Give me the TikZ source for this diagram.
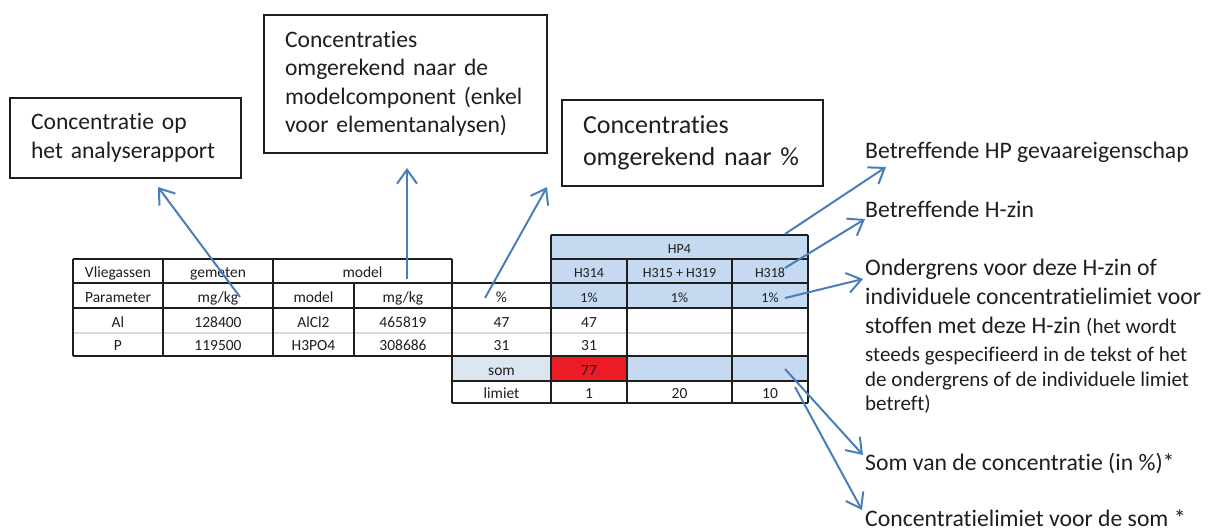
\documentclass[tikz,border=0pt]{standalone}
\usepackage{fontspec}
\setmainfont{Carlito}[Ligatures=NoCommon]
\usetikzlibrary{arrows.meta}
\definecolor{arr}{RGB}{74,126,187}
\definecolor{hpblue}{RGB}{197,217,241}
\definecolor{somblue}{RGB}{220,230,241}
\definecolor{redcell}{RGB}{237,28,36}
\definecolor{sepgray}{RGB}{217,217,217}
\definecolor{ink}{RGB}{30,30,30}
\begin{document}
\begin{tikzpicture}[x=1pt,y=-1pt,
  box/.style={draw=ink, line width=1.3pt, inner xsep=21pt, inner ysep=0pt, align=left, text=ink},
  boxfont/.style={font=\fontsize{23.6}{28.5}\selectfont},
  bigboxfont/.style={font=\fontsize{26}{32}\selectfont},
  callout/.style={draw=arr, line width=2pt, -{Straight Barb[length=14pt,width=20pt]}},
  grid/.style={draw=ink, line width=1.3pt},
  sepline/.style={draw=sepgray, line width=2pt},
  cell/.style={font=\fontsize{15.5}{18}\selectfont, text=ink, inner sep=0pt, anchor=base},
  hcell/.style={font=\fontsize{14}{17}\selectfont, text=ink, inner sep=0pt, anchor=base},
  note/.style={font=\fontsize{23.7}{28}\selectfont, text=ink, inner sep=0pt, anchor=base west},
  smallnote/.style={font=\fontsize{21}{26}\selectfont, text=ink, inner sep=0pt, anchor=base west}
]
\path[use as bounding box] (0,0) rectangle (1208,530);

% ---- boxes
\node[box, boxfont, text width=189pt, minimum height=80pt] (b1) at (125.5,138) {Concentratie op\\het analyserapport};
\node[box, boxfont, text width=241pt, minimum height=138pt] (b2) at (405.5,84) {Concentraties\\omgerekend naar de\\modelcomponent (enkel\\voor elementanalysen)};
\node[box, bigboxfont, text width=219pt, minimum height=86pt] (b3) at (692.5,143) {Concentraties\\omgerekend naar \%};

% ---- table fills
\fill[hpblue] (551,235) rectangle (808,308);
\fill[somblue] (452,356) rectangle (551,381);
\fill[redcell] (551,356) rectangle (627,381);
\fill[hpblue] (627,356) rectangle (808,381);

% ---- table lines
\path[sepline] (73,333) -- (808,333);
\path[grid] (73,259) -- (452,259);
\path[grid] (551,235) -- (808,235);
\path[grid] (551,259) -- (808,259);
\path[grid] (73,283) -- (808,283);
\path[grid] (73,308) -- (808,308);
\path[grid] (73,356) -- (808,356);
\path[grid] (452,381) -- (808,381);
\path[grid] (452,403) -- (808,403);
\path[grid] (73,259) -- (73,356);
\path[grid] (163,259) -- (163,356);
\path[grid] (273,259) -- (273,356);
\path[grid] (354,283) -- (354,356);
\path[grid] (452,259) -- (452,403);
\path[grid] (551,235) -- (551,403);
\path[grid] (627,259) -- (627,403);
\path[grid] (732,259) -- (732,403);
\path[grid] (808,235) -- (808,403);

% ---- table text
\node[hcell] (hp4) at (679.5,253) {HP4};
\node[cell] (c11) at (118,277) {Vliegassen};
\node[cell] (c12) at (218,277) {gemeten};
\node[cell] (c13) at (362.5,277) {model};
\node[hcell] (c16) at (589,277) {H314};
\node[hcell] (c17) at (679.5,277) {H315 + H319};
\node[hcell] (c18) at (770,277) {H318};
\node[cell] (c21) at (118,302.5) {Parameter};
\node[cell] (c22) at (218,302.5) {mg/kg};
\node[cell] (c23) at (313.5,302.5) {model};
\node[cell] (c24) at (403,302.5) {mg/kg};
\node[cell] (c25) at (501.5,302.5) {\%};
\node[hcell] (c26) at (589,302.5) {1\%};
\node[hcell] (c27) at (679.5,302.5) {1\%};
\node[hcell] (c28) at (770,302.5) {1\%};
\node[cell] (c31) at (118,327) {Al};
\node[cell] (c32) at (218,327) {128400};
\node[cell] (c33) at (313.5,327) {AlCl2};
\node[cell] (c34) at (403,327) {465819};
\node[cell] (c35) at (501.5,327) {47};
\node[cell] (c36) at (589,327) {47};
\node[cell] (c41) at (118,350.5) {P};
\node[cell] (c42) at (218,350.5) {119500};
\node[cell] (c43) at (313.5,350.5) {H3PO4};
\node[cell] (c44) at (403,350.5) {308686};
\node[cell] (c45) at (501.5,350.5) {31};
\node[cell] (c46) at (589,350.5) {31};
\node[cell] (c55) at (501.5,375) {som};
\node[cell] (c56) at (589,375) {77};
\node[cell] (c65) at (501.5,398) {limiet};
\node[cell] (c66) at (589,398) {1};
\node[cell] (c67) at (679.5,398) {20};
\node[cell] (c68) at (770,398) {10};

% ---- right-hand notes
\node[note] (n4) at (865,158) {Betreffende HP gevaareigenschap};
\node[note] (n5) at (865,217) {Betreffende H-zin};
\node[note] (n6a) at (865,275) {Ondergrens voor deze H-zin of};
\node[note] (n6b) at (865,304) {individuele concentratielimiet voor};
\node[note] (n6c) at (865,333) {stoffen met deze H-zin {\fontsize{21}{26}\selectfont (het wordt}};
\node[smallnote] (n6d) at (865,361) {steeds gespecifieerd in de tekst of het};
\node[smallnote] (n6e) at (865,386) {de ondergrens of de individuele limiet};
\node[smallnote] (n6f) at (865,410) {betreft)};
\node[note] (n7) at (865,470) {Som van de concentratie (in \%)*};
\node[note] (n8) at (865,526) {Concentratielimiet voor de som *};

% ---- arrow coordinates
\coordinate (s1) at (240,297); \coordinate (e1) at (158,187);
\coordinate (s2) at (407,279); \coordinate (e2) at (407,168);
\coordinate (s3) at (485,298); \coordinate (e3) at (547,187);
\coordinate (s4) at (785,234); \coordinate (e4) at (886,167);
\coordinate (s5) at (785,268); \coordinate (e5) at (865,219);
\coordinate (s6) at (785,298); \coordinate (e6) at (863,279);
\coordinate (s7) at (785,369); \coordinate (e7) at (863,455);
\coordinate (s8) at (795,387); \coordinate (e8) at (862,510);

\draw[callout] (s1) -- (e1);
\draw[callout] (s2) -- (e2);
\draw[callout] (s3) -- (e3);
\draw[callout] (s4) -- (e4);
\draw[callout] (s5) -- (e5);
\draw[callout] (s6) -- (e6);
\draw[callout] (s7) -- (e7);
\draw[callout] (s8) -- (e8);
\end{tikzpicture}
\end{document}
